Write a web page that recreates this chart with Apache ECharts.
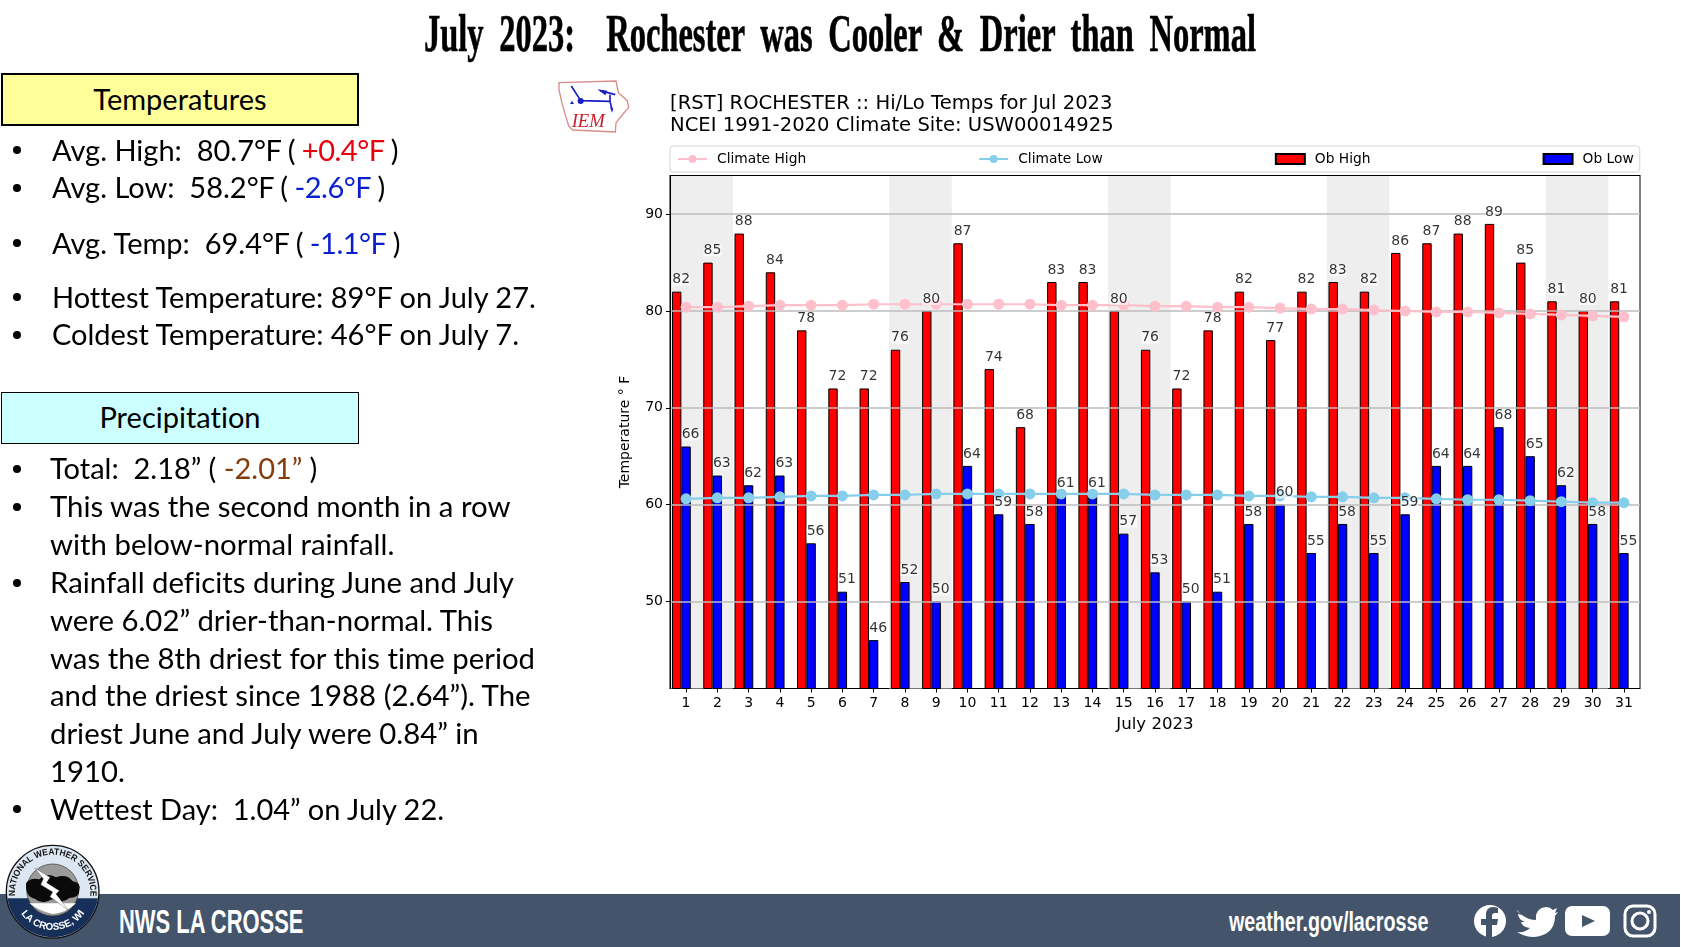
<!DOCTYPE html>
<html>
<head>
<meta charset="utf-8">
<title>July 2023: Rochester was Cooler & Drier than Normal</title>
<script src="https://cdn.jsdelivr.net/npm/echarts@6/dist/echarts.min.js"></script>
<style>
html, body { margin: 0; padding: 0; background: #fff; }
#page { position: relative; width: 1681px; height: 947px; overflow: hidden; font-family: Lato, "Open Sans", sans-serif; font-variant-ligatures: none; color: #000; }
#chart { position: absolute; left: 0; top: 0; width: 1681px; height: 947px; }
.abs { position: absolute; white-space: pre; }
.line { position: absolute; white-space: pre; font-size: 29px; line-height: 38px; height: 38px; }
.wrap { font-size: 29.35px; }
.tight { letter-spacing: -0.5px; }
.dot { position: absolute; left: 13px; width: 8px; height: 8px; border-radius: 50%; background: #000; }
.box { position: absolute; left: 1px; width: 358px; box-sizing: border-box; border: 1px solid #000; text-align: center; font-size: 29px; }
#headline { left: 0; top: 4px; width: 1681px; text-align: center; font: bold 52px "Liberation Serif", serif; word-spacing: 12px; -webkit-text-stroke: 0.6px #000; transform: scaleX(0.625); transform-origin: 839px 0; }
#band { position: absolute; left: 0; top: 894px; width: 1680px; height: 53px; background: #44546a; }
#nwsName { left: 119px; top: 903px; color: #fff; font: bold 33px "Liberation Sans", sans-serif; transform: scaleX(0.665); transform-origin: 0 0; }
#nwsSite { left: 1229px; top: 907px; color: #fff; font: bold 27px "Liberation Sans", sans-serif; transform: scaleX(0.73); transform-origin: 0 0; }
svg { position: absolute; }
</style>
</head>
<body>
<div id="page">
  <div id="chart"></div>
  <div id="headline" class="abs">July 2023:  Rochester was Cooler &amp; Drier than Normal</div>

  <div class="box" style="top:73px;height:53px;line-height:47px;background:#ffff99;border-width:2px;">Temperatures</div>
  <div class="dot" style="top:146px"></div>
  <div class="line" style="left:52px;top:131px">Avg. High:  80.7<span class="tight">°F ( <span style="color:#e8000b">+0.4°F</span> )</span></div>
  <div class="dot" style="top:184px"></div>
  <div class="line" style="left:52px;top:168px">Avg. Low:  58.2<span class="tight">°F ( <span style="color:#0a1fd0">-2.6°F</span> )</span></div>
  <div class="dot" style="top:239px"></div>
  <div class="line" style="left:52px;top:224px">Avg. Temp:  69.4<span class="tight">°F ( <span style="color:#0a1fd0">-1.1°F</span> )</span></div>
  <div class="dot" style="top:293px"></div>
  <div class="line" style="left:52px;top:278px">Hottest Temperature: 89°F on July 27.</div>
  <div class="dot" style="top:331px"></div>
  <div class="line" style="left:52px;top:315px">Coldest Temperature: 46°F on July 7.</div>

  <div class="box" style="top:392px;height:52px;line-height:48px;background:#ccffff;">Precipitation</div>
  <div class="dot" style="top:465px"></div>
  <div class="line" style="left:50px;top:449px">Total:  2.18” ( <span style="color:#843c0c">-2.01”</span> )</div>
  <div class="dot" style="top:503px"></div>
  <div class="line wrap" style="left:50px;top:487px">This was the second month in a row</div>
  <div class="line wrap" style="left:50px;top:525px">with below-normal rainfall.</div>
  <div class="dot" style="top:579px"></div>
  <div class="line wrap" style="left:50px;top:563px">Rainfall deficits during June and July</div>
  <div class="line wrap" style="left:50px;top:601px">were 6.02” drier-than-normal. This</div>
  <div class="line wrap" style="left:50px;top:639px">was the 8th driest for this time period</div>
  <div class="line wrap" style="left:50px;top:676px">and the driest since 1988 (2.64”). The</div>
  <div class="line wrap" style="left:50px;top:714px">driest June and July were 0.84” in</div>
  <div class="line wrap" style="left:50px;top:752px">1910.</div>
  <div class="dot" style="top:805px"></div>
  <div class="line" style="left:50px;top:790px">Wettest Day:  1.04” on July 22.</div>

  <!-- IEM logo -->
  <svg style="left:550px;top:70px" width="90" height="70" viewBox="0 0 270 210">
    <path d="M27 38 L198 33 L205 68 L232 92 L236 112 L214 138 L198 158 L196 186 L68 180 L56 168 L50 148 L36 100 L27 60 Z" fill="#fff" stroke="#d98c8c" stroke-width="4"/>
    <g stroke="#1a1fc4" stroke-width="5" fill="none">
      <path d="M64 48 L92 92 M92 92 L180 94 M180 94 L186 118 M150 62 L196 74 M180 74 L180 94"/>
    </g>
    <circle cx="92" cy="93" r="9" fill="#1a1fc4"/>
    <path d="M142 58 L172 62 L166 76 Z M66 92 l6 10 h-12 Z M180 110 l10 6 l-4 12 Z" fill="#1a1fc4"/>
    <text x="65" y="170" font-family="Liberation Serif" font-style="italic" font-size="56" fill="#c8202a">IEM</text>
  </svg>

  <div id="band"></div>
  <div id="nwsName" class="abs">NWS LA CROSSE</div>
  <div id="nwsSite" class="abs">weather.gov/lacrosse</div>

  <!-- NWS seal -->
  <svg style="left:0;top:840px" width="110" height="107" viewBox="0 0 330 321">
    <defs>
      <path id="arcTop" d="M46 172 A113 113 0 1 1 270 172"/>
      <path id="arcBottom" d="M60 215 A115 115 0 0 0 256 215"/>
      <clipPath id="lowerHalf"><rect x="0" y="175" width="330" height="160"/></clipPath>
    </defs>
    <circle cx="158" cy="155" r="139" fill="#dde6f3" stroke="#111" stroke-width="4"/>
    <circle cx="158" cy="155" r="137" fill="#17305a" clip-path="url(#lowerHalf)"/>
    <circle cx="158" cy="150" r="78" fill="#9a9a9a" stroke="#333" stroke-width="2"/>
    <path d="M88 190 Q120 215 158 222 Q200 218 228 190 Z" fill="#fff"/>
    <path d="M78 130 Q90 112 118 118 Q138 96 168 112 Q200 100 218 124 Q244 128 238 150 Q240 172 208 174 Q186 192 156 178 Q128 196 104 176 Q76 172 78 130 Z" fill="#0a0a0a"/>
    <path d="M104 84 L150 112 L140 128 L178 152 L168 162 L206 212 L150 170 L158 156 L122 134 L130 116 Z" fill="#fff" stroke="#333" stroke-width="1"/>
    <text font-family="Liberation Sans" font-weight="bold" font-size="27" fill="#111"><textPath href="#arcTop" textLength="378" lengthAdjust="spacingAndGlyphs" startOffset="4">NATIONAL WEATHER SERVICE</textPath></text>
    <text font-family="Liberation Sans" font-weight="bold" font-size="30" fill="#fff"><textPath href="#arcBottom" textLength="224" lengthAdjust="spacingAndGlyphs" startOffset="6">LA CROSSE, WI</textPath></text>
  </svg>

  <!-- social icons -->
  <svg style="left:1470px;top:900px" width="195" height="42" viewBox="0 0 195 42" fill="#fff">
    <circle cx="20" cy="21" r="16"/>
    <path d="M22 37 V25 H27 L28 19 H22 V16 Q22 13 25 13 H28 V8 Q25 7 23 7 Q16 7 16 15 V19 H11 V25 H16 V37 Z" fill="#44546a"/>
    <path d="M47 10 Q55 20 66 20 Q65 8 76 7 Q80 7 83 10 L87 8 L85 13 L88 12 L85 16 Q85 32 70 36 Q58 39 47 32 Q55 33 60 28 Q52 27 51 22 L55 22 Q48 19 48 14 L52 15 Q46 11 47 10 Z"/>
    <rect x="95" y="6" width="45" height="30" rx="7"/>
    <path d="M112 15 L125 21 L112 27 Z" fill="#44546a"/>
    <rect x="155" y="6" width="30" height="30" rx="8" fill="none" stroke="#fff" stroke-width="3"/>
    <circle cx="170" cy="21" r="8" fill="none" stroke="#fff" stroke-width="3"/>
    <circle cx="179" cy="12" r="2"/>
  </svg>
</div>

<script>
// Daily values, one entry per day of July 2023
const days = [1, 2, 3, 4, 5, 6, 7, 8, 9, 10, 11, 12, 13, 14, 15, 16, 17, 18, 19, 20, 21, 22, 23, 24, 25, 26, 27, 28, 29, 30, 31];
const obHigh = [82, 85, 88, 84, 78, 72, 72, 76, 80, 87, 74, 68, 83, 83, 80, 76, 72, 78, 82, 77, 82, 83, 82, 86, 87, 88, 89, 85, 81, 80, 81];
const obLow = [66, 63, 62, 63, 56, 51, 46, 52, 50, 64, 59, 58, 61, 61, 57, 53, 50, 51, 58, 60, 55, 58, 55, 59, 64, 64, 68, 65, 62, 58, 55];
const climateHigh = [80.4, 80.4, 80.5, 80.6, 80.6, 80.6, 80.7, 80.7, 80.7, 80.7, 80.7, 80.7, 80.6, 80.6, 80.6, 80.5, 80.5, 80.4, 80.4, 80.3, 80.2, 80.2, 80.1, 80.0, 79.9, 79.9, 79.8, 79.7, 79.6, 79.5, 79.4];
const climateLow = [60.6, 60.7, 60.7, 60.8, 60.9, 60.9, 61.0, 61.0, 61.1, 61.1, 61.1, 61.1, 61.1, 61.1, 61.1, 61.0, 61.0, 61.0, 60.9, 60.9, 60.8, 60.8, 60.7, 60.7, 60.6, 60.5, 60.5, 60.4, 60.3, 60.2, 60.2];
const tempTicks = [50, 60, 70, 80, 90];
const weekendStart = [0.5, 7.5, 14.5, 21.5, 28.5];
const weekendEnd = [2.5, 9.5, 16.5, 23.5, 30.5];
// Red bars sit one bar width to the left of the day tick
const barShift = 0.3;

const FONT = '"DejaVu Sans", sans-serif';
const X_MIN = 0.486;
const X_MAX = 31.514;

function pairs(xs, ys, shift) {
    return xs.map((x, i) => [x - shift, ys[i]]);
}

// Value labels live in their own series so they stay above the climate lines
function labelSeries(ys, shift) {
    return {
        type: 'scatter',
        data: pairs(days, ys, shift),
        symbolSize: 0,
        silent: true,
        z: 8,
        label: {
            show: true,
            position: 'top',
            distance: 6,
            offset: [4.5, 0],
            formatter: p => String(p.value[1]),
            color: '#000',
            fontFamily: FONT,
            fontSize: 14,
            lineHeight: 12,
            backgroundColor: 'rgba(255,255,255,0.8)'
        }
    };
}

function barSeries(name, ys, shift, color) {
    return {
        name: name,
        type: 'bar',
        data: pairs(days, ys, shift),
        barWidth: 9.4,
        barGap: '-100%',
        itemStyle: { color: color, borderColor: '#000', borderWidth: 1 },
        z: 2
    };
}

function climateSeries(name, ys, color) {
    return {
        name: name,
        type: 'line',
        data: pairs(days, ys, 0),
        symbol: 'circle',
        symbolSize: 11,
        showSymbol: true,
        lineStyle: { color: color, width: 2.2 },
        itemStyle: { color: color },
        z: 5
    };
}

const chart = echarts.init(document.getElementById('chart'), null, { renderer: 'canvas' });
chart.setOption({
    animation: false,
    backgroundColor: 'transparent',
    title: {
        text: '[RST] ROCHESTER :: Hi/Lo Temps for Jul 2023\nNCEI 1991-2020 Climate Site: USW00014925',
        left: 670,
        top: 93,
        padding: 0,
        textStyle: { fontFamily: FONT, fontWeight: 'normal', fontSize: 19.6, lineHeight: 22, color: '#000' }
    },
    legend: {
        data: [
            { name: 'Climate High' },
            { name: 'Climate Low' },
            { name: 'Ob High', icon: 'rect' },
            { name: 'Ob Low', icon: 'rect' }
        ],
        left: 670,
        top: 146,
        padding: [6, 6, 6, 7],
        itemWidth: 29,
        itemHeight: 10,
        itemGap: 172,
        borderColor: '#d5d5d5',
        borderWidth: 1,
        borderRadius: 3,
        textStyle: { fontFamily: FONT, fontSize: 13.8, color: '#000', padding: [0, 0, 0, 5] }
    },
    grid: { left: 670, top: 175.5, right: 41, bottom: 258.5, show: true, borderColor: '#000', borderWidth: 1, backgroundColor: '#fff' },
    xAxis: [
        {
            type: 'value',
            min: X_MIN,
            max: X_MAX,
            name: 'July 2023',
            nameLocation: 'middle',
            nameGap: 28,
            nameTextStyle: { fontFamily: FONT, fontSize: 16.6, color: '#000' },
            axisLine: { show: true, onZero: false, lineStyle: { color: '#000' } },
            axisTick: { show: true, length: 4, customValues: days, lineStyle: { color: '#000' } },
            axisLabel: { customValues: days, fontFamily: FONT, fontSize: 14, color: '#000', margin: 8 },
            splitLine: { show: false }
        },
        {
            // Only the top frame line, so the weekend shading does not cover it
            type: 'value',
            position: 'top',
            min: X_MIN,
            max: X_MAX,
            z: 3,
            axisLine: { show: true, onZero: false, lineStyle: { color: '#000' } },
            axisTick: { show: false },
            axisLabel: { show: false },
            splitLine: { show: false }
        }
    ],
    yAxis: {
        type: 'value',
        min: 41,
        max: 94,
        z: 3,
        name: 'Temperature ° F',
        nameLocation: 'middle',
        nameGap: 38,
        nameTextStyle: { fontFamily: FONT, fontSize: 14, color: '#000' },
        axisLine: { show: true, onZero: false, lineStyle: { color: '#000' } },
        axisTick: { show: true, length: 4, customValues: tempTicks, lineStyle: { color: '#000' } },
        axisLabel: { customValues: tempTicks, fontFamily: FONT, fontSize: 14, color: '#000', margin: 7 },
        splitLine: { show: true, lineStyle: { color: '#bdbdbd', width: 1.5 } }
    },
    series: [
        {
            type: 'line',
            data: [],
            silent: true,
            z: 1,
            markArea: {
                silent: true,
                itemStyle: { color: '#eeeeee' },
                data: weekendStart.map((s, i) => [{ xAxis: s }, { xAxis: weekendEnd[i] }])
            }
        },
        barSeries('Ob High', obHigh, barShift, '#ff0000'),
        barSeries('Ob Low', obLow, 0, '#0000ff'),
        climateSeries('Climate High', climateHigh, '#ffc0cb'),
        climateSeries('Climate Low', climateLow, '#87ceeb'),
        labelSeries(obHigh, barShift),
        labelSeries(obLow, 0)
    ]
});
</script>
</body>
</html>
